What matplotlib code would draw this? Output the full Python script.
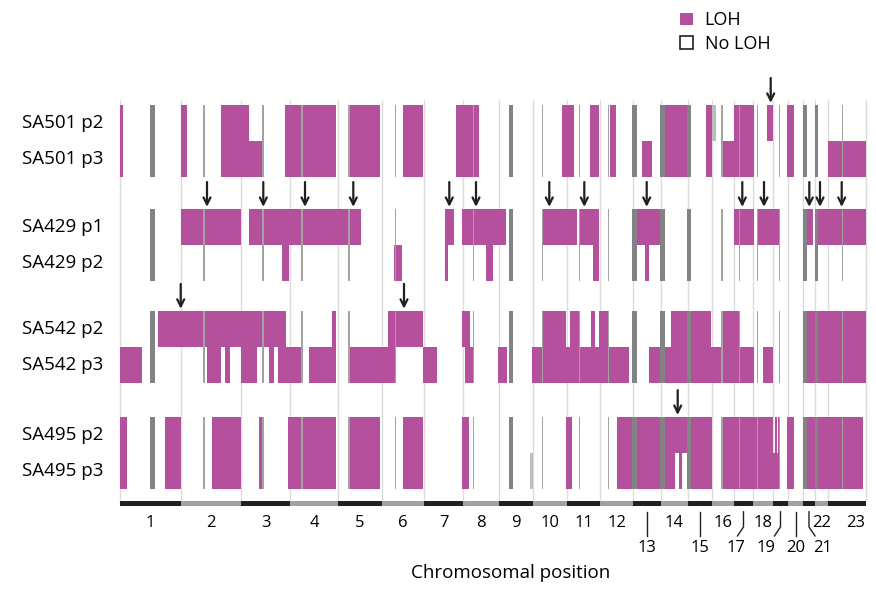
import matplotlib
matplotlib.use("Agg")
import matplotlib.pyplot as plt
from matplotlib.patches import Patch

plt.rcParams["font.family"] = ["Open Sans", "DejaVu Sans"]

# colours
LOH_COLOR = "#b4509c"
CEN_DARK = "#838386"
CEN_THIN = "#a3a3a3"
CHR_COLORS = ["#231f20", "#a1a1a1"]

# genome positions are in plot units (left edge of chr1 = 120)
chrom_names = [str(i) for i in range(1, 24)]
chrom_bounds = [120, 181, 241, 290, 338, 382, 424, 463, 499, 533, 567, 600,
                633, 661, 688, 712, 734, 753, 773, 788, 803, 815, 828, 866]
# chromosomes whose number sits on the second label line
low_labels = ["13", "15", "17", "19", "20", "21"]
label_shift = {"17": -8, "19": -15, "21": 14, "23": 9}

# centromere / no data marks (start, end, thick?)
centromeres = [(149.5, 155, True), (203.3, 204.7, False), (262.3, 263.7, False),
               (301, 302.5, False), (348, 349.7, False), (395, 396.3, False),
               (473.3, 474.3, False), (509, 513.3, True), (542, 543, False),
               (578.5, 579.5, False), (607.5, 608.5, False), (632.3, 636.7, True),
               (660.3, 665, True), (686.7, 691, True), (720.7, 722.7, False),
               (739, 740, False), (757, 758, False), (778.7, 779.7, False),
               (802.7, 806.7, True), (815, 818.3, True), (842.3, 843.3, False)]

samples = ["SA501 p2", "SA501 p3", "SA429 p1", "SA429 p2",
           "SA542 p2", "SA542 p3", "SA495 p2", "SA495 p3"]

sa501_p2 = [(120, 122.7), (180.7, 187.3), (220.7, 249.3), (285.3, 336), (349.7, 380.3),
            (402.7, 423.3), (456, 478.7), (561.7, 574), (590.3, 599), (610.3, 615.7),
            (665, 686.7), (705.7, 711.7), (734.3, 754.3), (767.3, 772.7), (787.3, 794.3)]
sa501_p3 = [(120, 122.7), (180.7, 187.3), (220.7, 262.3), (285.3, 336), (349.7, 380.3),
            (402.7, 423.3), (456, 478.7), (561.7, 574), (590.3, 599), (610.3, 615.7),
            (641.7, 652.3), (665, 686.7), (705.7, 711.7), (722.7, 754.3), (787.3, 794.3),
            (827.7, 865.7)]
sa429_p1 = [(180.7, 240.7), (249.3, 361), (445.3, 453.7), (462, 505.7), (542.7, 577.3),
            (578.7, 599), (636.7, 660.3), (734, 754), (758, 779), (806, 812.7),
            (818.3, 865.7)]
sa429_p2 = [(281.7, 289.3), (394, 402), (445.3, 448.3), (486, 493.3), (592.7, 599),
            (645.3, 648.7)]
sa542_p2 = [(157.7, 285.7), (331.7, 336), (388.3, 422.7), (462.3, 470), (542.7, 566),
            (570, 579), (591, 595), (599, 607.7), (671, 686.7), (691, 711),
            (721.7, 740), (806.7, 865.7)]
sa542_p3 = [(120, 141.7), (207.3, 220.7), (225, 230), (240.7, 256.7), (269.3, 274.3),
            (277.7, 301.7), (309.3, 336), (348.3, 395.7), (422.7, 437.3), (465, 473.3),
            (497.7, 506.7), (532.3, 629.3), (649, 660.3), (665, 754), (762.7, 773.3),
            (806.7, 865.7)]
sa495_p2 = [(120, 126.7), (165, 180.7), (211.7, 240.7), (259.3, 263.3), (288.3, 336),
            (349.7, 380.3), (402.7, 423.3), (461.7, 469.3), (566, 571.7), (617.3, 711.7),
            (720.7, 773.3), (775, 776.7), (778.3, 779), (787.3, 794.3), (806.7, 863.3)]
sa495_p3 = [(120, 126.7), (165, 180.7), (211.7, 240.7), (259.3, 263.3), (288.3, 336),
            (349.7, 380.3), (402.7, 423.3), (461.7, 469.3), (566, 571.7), (617.3, 675),
            (679.3, 682), (686.7, 711.7), (720.7, 779), (787.3, 794.3), (806.7, 863.3)]
loh_rows = [sa501_p2, sa501_p3, sa429_p1, sa429_p2, sa542_p2, sa542_p3, sa495_p2, sa495_p3]

# extra no-data stretches seen in a single row
extra_gray = {0: [(712.3, 715.7)], 7: [(530, 532.7)]}

# arrows above each pair
sa501_arrows = [770.7]
sa429_arrows = [207, 263.3, 305, 353.3, 449.3, 476, 549.3, 584.3, 646.7, 742.3,
                764, 809.3, 820, 841.7]
sa542_arrows = [180.7, 404]
sa495_arrows = [677.7]
group_arrows = [sa501_arrows, sa429_arrows, sa542_arrows, sa495_arrows]

group_tops = [0, 2.89, 5.72, 8.67]

fig = plt.figure(figsize=(8.76, 5.92), dpi=100)
ax = fig.add_axes([0, 0, 1, 1])
ax.set_xlim(0, 876)
ax.set_ylim(487 / 36, -105 / 36)
ax.axis("off")

# chromosome boundary lines
ax.vlines(chrom_bounds, -0.14, 10.97, color="#dcdcdc", lw=1, zorder=1)

for g, top in enumerate(group_tops):
    for r in range(2):
        idx = 2 * g + r
        segs = [(s, e - s) for s, e in loh_rows[idx]]
        ax.broken_barh(segs, (top + r, 1), facecolors=LOH_COLOR, edgecolor="none", zorder=2)
        if idx in extra_gray:
            ax.broken_barh([(s, e - s) for s, e in extra_gray[idx]], (top + r, 1),
                           facecolors="#bdbdbd", edgecolor="none", zorder=3)
        ax.text(22, top + r + 0.5, samples[idx], ha="left", va="center", fontsize=13.5)
    thick = [(s, e - s) for s, e, t in centromeres if t]
    thin = [(s, e - s) for s, e, t in centromeres if not t]
    ax.broken_barh(thick, (top, 2), facecolors=CEN_DARK, edgecolor="none", zorder=3)
    ax.broken_barh(thin, (top, 2), facecolors=CEN_THIN, edgecolor="none", zorder=3)
    for x in group_arrows[g]:
        ax.annotate("", xy=(x, top - 0.06), xytext=(x, top - 0.75),
                    arrowprops=dict(arrowstyle="->,head_length=0.5,head_width=0.25",
                                    color="#231f20", lw=1.6, shrinkA=0, shrinkB=0))

# chromosome bar and numbers
for i, name in enumerate(chrom_names):
    a, b = chrom_bounds[i], chrom_bounds[i + 1]
    ax.broken_barh([(a, b - a)], (11.01, 0.14), facecolors=CHR_COLORS[i % 2],
                   edgecolor="none")
    mid = (a + b) / 2
    lx = mid + label_shift.get(name, 0)
    if name in low_labels:
        ax.text(lx, 12.3, name, ha="center", va="center", fontsize=12)
        if lx == mid:
            ax.plot([mid, mid], [11.3, 11.97], color="#231f20", lw=1)
        else:
            end = mid + (6 if lx > mid else -6)
            ax.plot([mid, mid, end], [11.3, 11.72, 11.97], color="#231f20", lw=1)
    else:
        ax.text(lx, 11.62, name, ha="center", va="center", fontsize=12)

ax.text(511, 13.0, "Chromosomal position", ha="center", va="center", fontsize=13.5)

handles = [Patch(facecolor=LOH_COLOR, edgecolor="none", label="LOH"),
           Patch(facecolor="white", edgecolor="#231f20", lw=1.2, label="No LOH")]
fig.legend(handles=handles, loc="upper left", bbox_to_anchor=(664 / 876, 1 + 5 / 592),
           frameon=False, fontsize=13, handlelength=0.7, handleheight=0.7,
           handletextpad=0.65, labelspacing=0.3)

fig.savefig("out.png", dpi=100)
